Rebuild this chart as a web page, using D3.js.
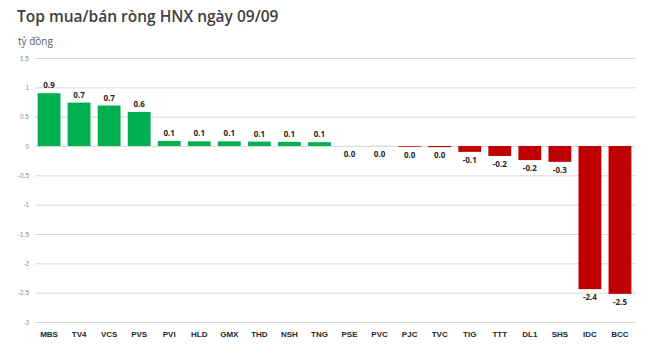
<!DOCTYPE html>
<html><head><meta charset="utf-8">
<script src="https://cdn.jsdelivr.net/npm/d3@7"></script>
<style>body{margin:0;background:#fff;}svg{display:block;font-family:"Open Sans",sans-serif;}</style>
</head><body><svg id="c" width="650" height="353"></svg>
<script>
const categories=["MBS","TV4","VCS","PVS","PVI","HLD","GMX","THD","NSH","TNG","PSE","PVC","PJC","TVC","TIG","TTT","DL1","SHS","IDC","BCC"];
const values=[0.90,0.74,0.69,0.58,0.085,0.08,0.08,0.075,0.07,0.065,0.001,0.002,-0.012,-0.02,-0.1,-0.17,-0.24,-0.27,-2.44,-2.52];
const labels=["0.9","0.7","0.7","0.6","0.1","0.1","0.1","0.1","0.1","0.1","0.0","0.0","0.0","0.0","-0.1","-0.2","-0.2","-0.3","-2.4","-2.5"];
const yTicks=[1.5,1,0.5,0,-0.5,-1,-1.5,-2,-2.5,-3];
const title="Top mua/bán ròng HNX ngày 09/09";
const unit="tỷ đồng";

const svg=d3.select("#c");
const x=d3.scaleBand().domain(categories).range([34,635]).paddingInner(0.24).paddingOuter(0.12);
const y=d3.scaleLinear().domain([-3,1.5]).range([322,58]);

svg.append("text").attr("x",17).attr("y",22).attr("font-size",15.5).attr("font-weight",600).attr("fill","#404040").text(title);
svg.append("text").attr("x",18).attr("y",45).attr("font-size",10).attr("fill","#595959").text(unit);

const yAxis=d3.axisLeft(y).tickValues(yTicks).tickSize(-(636-35)).tickFormat(d=>String(d));
const ga=svg.append("g").attr("transform","translate(35,0)").call(yAxis);
ga.select(".domain").remove();
ga.selectAll(".tick line").attr("stroke","#d9d9d9").attr("stroke-width",1);
ga.selectAll(".tick text").attr("fill","#8c8c8c").attr("font-size",6.5).attr("x",-6);

svg.append("g").selectAll("rect").data(categories).join("rect")
 .attr("x",d=>x(d)).attr("width",x.bandwidth())
 .attr("y",(d,i)=>y(Math.max(0,values[i])))
 .attr("height",(d,i)=>Math.abs(y(values[i])-y(0)))
 .attr("fill",(d,i)=>values[i]>=0?"#00b050":"#c00000");

svg.append("g").selectAll("text").data(categories).join("text")
 .attr("x",d=>x(d)+x.bandwidth()/2)
 .attr("y",(d,i)=>values[i]>=0.005?y(values[i])-5:y(Math.min(0,values[i]))+11)
 .attr("text-anchor","middle").attr("font-size",8).attr("font-weight",700).attr("fill","#262626")
 .text((d,i)=>labels[i]);

const xAxis=d3.axisBottom(x).tickSize(0);
const gx=svg.append("g").attr("transform","translate(0,322)").call(xAxis);
gx.select(".domain").remove();
gx.selectAll(".tick text").attr("font-size",8).attr("font-weight",700).attr("fill","#262626").attr("dy","1.5em");
</script></body></html>
